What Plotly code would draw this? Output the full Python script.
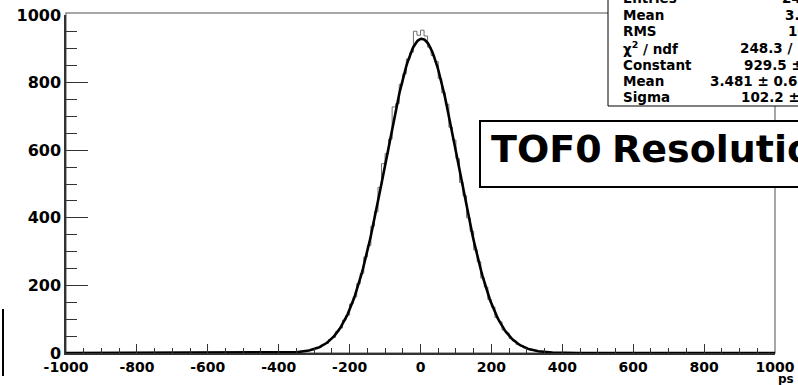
import numpy as np
import plotly.graph_objects as go

# ---------------- data ----------------
bin_width = 10
bin_centers = list(range(-395, 400, 10))
counts = [1, 0, 2, 1, 3, 2, 5, 4, 8, 9,
          14, 16, 24, 28, 40, 46, 63, 74, 97, 112,
          145, 166, 205, 236, 284, 318, 375, 418, 490, 560,
          590, 633, 728, 738, 795, 826, 870, 890, 952, 940,
          955, 938, 905, 880, 862, 812, 770, 736, 668, 630,
          575, 505, 465, 400, 360, 305, 270, 222, 195, 158,
          136, 105, 92, 68, 59, 43, 36, 25, 22, 15,
          13, 8, 7, 4, 5, 2, 2, 1, 1, 0]

fit_constant = 929.5
fit_mean = 3.481
fit_sigma = 102.2

x_ticks = [-1000, -800, -600, -400, -200, 0, 200, 400, 600, 800, 1000]
x_tick_labels = ["-1000", "-800", "-600", "-400", "-200", "0", "200", "400", "600", "800", "1000"]
y_ticks = [0, 200, 400, 600, 800, 1000]
y_tick_labels = ["0", "200", "400", "600", "800", "1000"]

stat_labels = ["Entries", "Mean", "RMS", "\u03c7<sup>2</sup> / ndf", "Constant", "Mean", "Sigma"]
stat_values = ["24112", "3.518", "102.9", "248.3 / 123", "929.5 \u00b1 7.6", "3.481 \u00b1 0.682", "102.2 \u00b1 0.5"]
stat_value_x = [780, 783, 786, 738, 742, 708, 739]

# ---------------- geometry helpers ----------------
W, H = 798, 385
L, R, T, B = 66, 775, 15, 353


def px(xp):
    return (xp - L) / (R - L)


def py(yp):
    return (B - yp) / (B - T)


# histogram as steps
edges = [c - bin_width / 2 for c in bin_centers] + [bin_centers[-1] + bin_width / 2]
step_y = counts + [counts[-1]]

xf = np.linspace(-1000, 1000, 801)
yf = fit_constant * np.exp(-0.5 * ((xf - fit_mean) / fit_sigma) ** 2)

fig = go.Figure()
fig.add_trace(go.Scatter(x=edges, y=step_y, mode="lines", line=dict(shape="hv", color="#707070", width=1),
                         hoverinfo="skip", showlegend=False))
fig.add_trace(go.Scatter(x=xf, y=yf, mode="lines", line=dict(color="black", width=2.6),
                         hoverinfo="skip", showlegend=False))

tickfont = dict(family="DejaVu Sans", size=14, color="black", weight="bold")

fig.update_layout(
    width=W, height=H,
    margin=dict(l=L, r=W - R, t=T, b=H - B),
    paper_bgcolor="white", plot_bgcolor="white",
    xaxis=dict(range=[-1000, 1000], tickvals=x_ticks, ticktext=x_tick_labels, ticks="inside", ticklen=9,
               tickwidth=1, tickcolor="#333", showgrid=False, zeroline=False, showline=True, linecolor="#333",
               linewidth=1.5, tickfont=tickfont, automargin=False,
               minor=dict(dtick=50, ticks="inside", ticklen=5, tickcolor="#333", tickwidth=1)),
    yaxis=dict(range=[0, 1000], tickvals=y_ticks, ticktext=y_tick_labels, ticks="inside", ticklen=22,
               tickwidth=1, tickcolor="#333", showgrid=False, zeroline=False, showline=True, linecolor="#333",
               linewidth=1.5, automargin=False,
               tickfont=dict(family="DejaVu Sans", size=16, color="black", weight="bold"),
               minor=dict(dtick=50, ticks="inside", ticklen=11, tickcolor="#333", tickwidth=1)),
)

shapes = []
# frame (top/right) in gray
shapes.append(dict(type="rect", xref="paper", yref="paper", x0=0, x1=1, y0=0, y1=py(13),
                   line=dict(color="#8a8a8a", width=1.5), layer="below"))
# stats box
shapes.append(dict(type="rect", xref="paper", yref="paper", x0=px(608), x1=px(840), y0=py(106), y1=py(-10),
                   line=dict(color="black", width=1), fillcolor="white", layer="above"))
# TOF0 label box
shapes.append(dict(type="rect", xref="paper", yref="paper", x0=px(480), x1=px(840), y0=py(187), y1=py(121),
                   line=dict(color="black", width=2), fillcolor="white", layer="above"))
# stray line bottom-left
shapes.append(dict(type="line", xref="paper", yref="paper", x0=px(3), x1=px(3), y0=py(376), y1=py(309),
                   line=dict(color="black", width=2)))
fig.update_layout(shapes=shapes)

ann = []
row_y = [-1.5, 15, 31.5, 48, 65, 81.5, 97]
sfont = dict(family="DejaVu Sans", size=13.5, color="black", weight="bold")
for lab, val, vx, yy in zip(stat_labels, stat_values, stat_value_x, row_y):
    ann.append(dict(xref="paper", yref="paper", x=px(621), y=py(yy), text=lab, showarrow=False,
                    xanchor="left", yanchor="middle", font=sfont))
    ann.append(dict(xref="paper", yref="paper", x=px(vx), y=py(yy), text=val, showarrow=False,
                    xanchor="left", yanchor="middle", font=sfont))
bigfont = dict(family="DejaVu Sans", size=38, color="black", weight="bold")
ann.append(dict(xref="paper", yref="paper", x=px(489), y=py(149), text="TOF0", showarrow=False,
                xanchor="left", yanchor="middle", font=bigfont))
ann.append(dict(xref="paper", yref="paper", x=px(610), y=py(149), text="Resolution", showarrow=False,
                xanchor="left", yanchor="middle", font=bigfont))
ann.append(dict(xref="paper", yref="paper", x=px(786), y=py(379), text="ps", showarrow=False,
                xanchor="center", yanchor="middle", font=dict(family="DejaVu Sans", size=12, color="black", weight="bold")))
fig.update_layout(annotations=ann)

fig.write_html("out.html", config={"displayModeBar": False},
               post_script="document.body.style.margin='0';document.body.style.overflow='hidden';")
